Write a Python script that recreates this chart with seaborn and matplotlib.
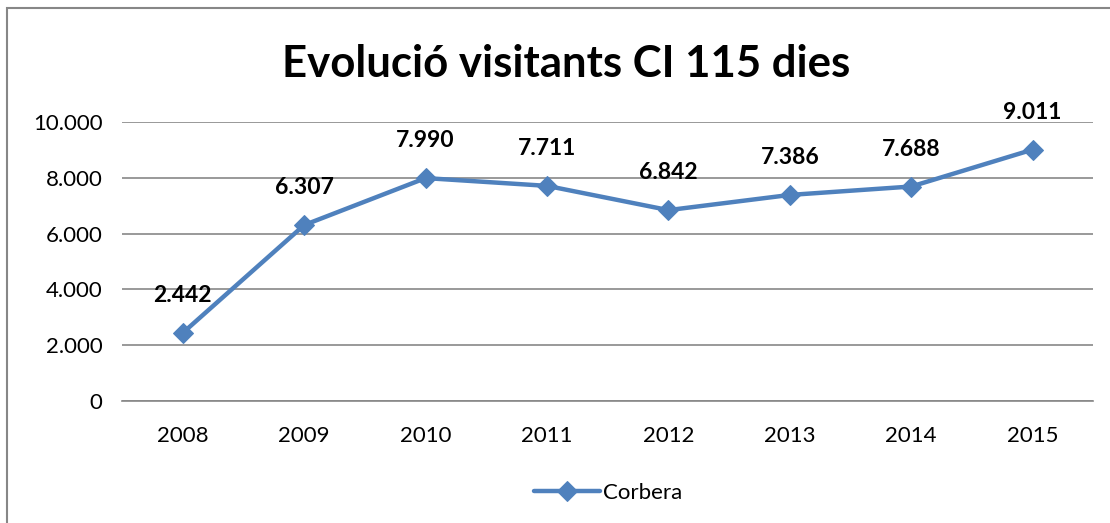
import matplotlib
matplotlib.use("Agg")
import matplotlib.pyplot as plt
import matplotlib.ticker as mticker
from matplotlib.patches import Rectangle
import pandas as pd
import seaborn as sns

years = ["2008", "2009", "2010", "2011", "2012", "2013", "2014", "2015"]
visitants = [2442, 6307, 7990, 7711, 6842, 7386, 7688, 9011]
serie = "Corbera"
titol = "Evolució visitants CI 115 dies"

df = pd.DataFrame({"any": years, "visitants": visitants, "serie": serie})

sns.set_theme(style="white")
plt.rcParams["font.family"] = ["Lato", "DejaVu Sans"]
plt.rcParams["text.color"] = "black"

blau = "#4F81BD"
fig = plt.figure(figsize=(11.1, 5.23), dpi=100)
ax = fig.add_axes([0.110, 0.2333, 0.875, 0.5334])

sns.lineplot(data=df, x="any", y="visitants", hue="serie", palette=[blau],
             marker="D", markersize=10.5, linewidth=3.2, markeredgecolor=blau,
             sort=False, ax=ax)

def fmt(v, pos=None):
    return f"{int(v):,}".replace(",", ".")

for i, v in enumerate(visitants):
    ax.annotate(fmt(v), (i, v), xytext=(0, 27), textcoords="offset points",
                ha="center", va="center", fontsize=16.5, fontweight="bold",
                color="black")

ax.set_ylim(0, 10000)
ax.set_xlim(-0.5, len(years) - 0.5)
ax.yaxis.set_major_locator(mticker.MultipleLocator(2000))
ax.yaxis.set_major_formatter(mticker.FuncFormatter(fmt))
ax.grid(axis="y", color="#878787", linewidth=1.2)
ax.set_axisbelow(True)
for s in ["left", "right", "top"]:
    ax.spines[s].set_visible(False)
ax.spines["bottom"].set_color("#878787")
ax.spines["bottom"].set_linewidth(1.2)
ax.tick_params(axis="both", length=0, labelsize=16, colors="black")
ax.tick_params(axis="y", pad=14)
ax.tick_params(axis="x", pad=18)
ax.set_xlabel("")
ax.set_ylabel("")

fig.text(0.51, 0.878, titol, ha="center", va="center", fontsize=31.5,
         fontweight="bold", color="black")

leg = ax.legend(loc="center", bbox_to_anchor=(0.5, -0.33), frameon=False,
                fontsize=16, handlelength=3.0, handletextpad=0.1)

fig.patches.append(Rectangle((7 / 1110, -0.1), 1.2, 1.1 - 8 / 523,
                             transform=fig.transFigure, fill=False,
                             edgecolor="#878787", linewidth=1.5))

fig.savefig("out.png", dpi=100)
